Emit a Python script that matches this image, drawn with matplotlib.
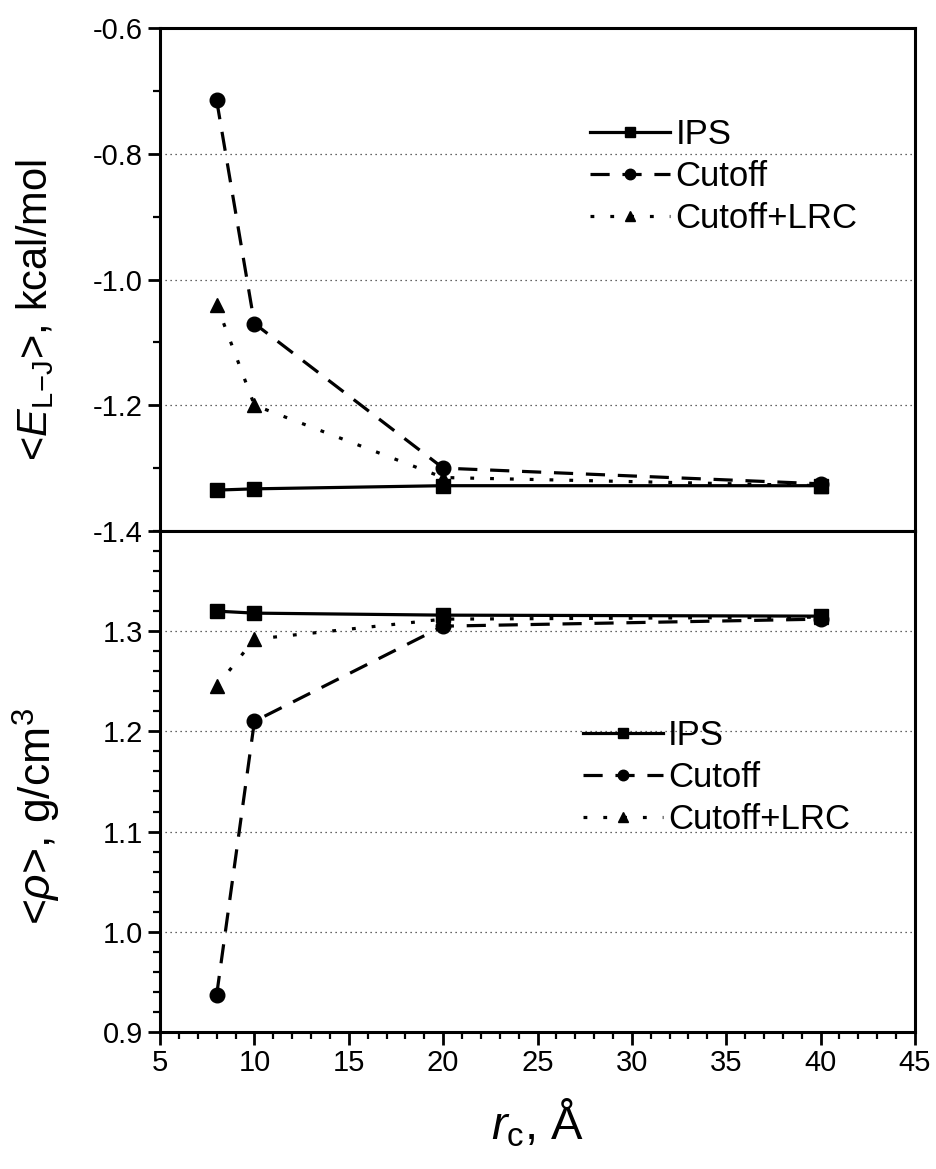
import matplotlib
matplotlib.use("Agg")
import matplotlib.pyplot as plt
from matplotlib.ticker import MultipleLocator

plt.rcParams['font.family'] = ['Liberation Sans', 'DejaVu Sans']
plt.rcParams['mathtext.fontset'] = 'custom'
plt.rcParams['mathtext.rm'] = 'Liberation Sans'
plt.rcParams['mathtext.it'] = 'Liberation Sans:italic'
plt.rcParams['xtick.labelsize'] = 21
plt.rcParams['ytick.labelsize'] = 21
plt.rcParams['xtick.major.size'] = 9
plt.rcParams['ytick.major.size'] = 9
plt.rcParams['xtick.minor.size'] = 5
plt.rcParams['ytick.minor.size'] = 5
plt.rcParams['xtick.major.width'] = 2
plt.rcParams['ytick.major.width'] = 2
plt.rcParams['xtick.minor.width'] = 1.6
plt.rcParams['ytick.minor.width'] = 1.6

rc = [8, 10, 20, 40]

# <E_L-J>, kcal/mol
e_ips = [-1.335, -1.333, -1.328, -1.328]
e_cut = [-0.715, -1.07, -1.30, -1.325]
e_lrc = [-1.04, -1.20, -1.315, -1.328]

# <rho>, g/cm^3
d_ips = [1.320, 1.318, 1.316, 1.315]
d_cut = [0.937, 1.21, 1.305, 1.312]
d_lrc = [1.245, 1.292, 1.312, 1.314]

labels = ['IPS', 'Cutoff', 'Cutoff+LRC']

fig = plt.figure(figsize=(9.37, 11.69), dpi=100)
ax1 = fig.add_axes([0.1708, 0.5458, 0.8057, 0.4302])
ax2 = fig.add_axes([0.1708, 0.1172, 0.8057, 0.4286], sharex=ax1)

lw = 2.3
styles = [
    dict(ls='-', marker='s', ms=10.5),
    dict(ls=(0, (6, 4)), marker='o', ms=10.5),
    dict(ls=(0, (1.2, 5)), marker='^', ms=10.5),
]

for ax, series in [(ax1, [e_ips, e_cut, e_lrc]), (ax2, [d_ips, d_cut, d_lrc])]:
    for y, st, lab in zip(series, styles, labels):
        ax.plot(rc, y, color='black', lw=lw, label=lab, **st)
    ax.grid(axis='y', ls=(0, (1, 3)), color='#333333', lw=0.9)
    for s in ax.spines.values():
        s.set_linewidth(2.2)
    ax.xaxis.set_major_locator(MultipleLocator(5))
    ax.xaxis.set_minor_locator(MultipleLocator(1))
    leg_loc = (0.57, 0.821) if ax is ax1 else (0.56, 0.625)
    ax.legend(loc='upper left', bbox_to_anchor=leg_loc, frameon=False, fontsize=25,
              borderpad=0, borderaxespad=0, handlelength=2.3, handletextpad=0.15,
              labelspacing=0.26, markerscale=0.72)

ax1.set_xlim(5, 45)
ax1.set_ylim(-1.4, -0.6)
ax1.set_yticks([-1.4, -1.2, -1.0, -0.8, -0.6])
ax1.set_yticklabels(['-1.4', '-1.2', '-1.0', '-0.8', '-0.6'])
ax1.yaxis.set_minor_locator(MultipleLocator(0.1))
ax1.tick_params(axis='x', labelbottom=False)

ax2.set_ylim(0.9, 1.4)
ax2.set_yticks([0.9, 1.0, 1.1, 1.2, 1.3])
ax2.set_yticklabels(['0.9', '1.0', '1.1', '1.2', '1.3'])
ax2.yaxis.set_minor_locator(MultipleLocator(0.02))

ax1.set_ylabel(r'<$E_{\mathrm{L\!-\!J}}$>, kcal/mol', fontsize=30)
ax2.set_ylabel(r'<$\rho$>, g/cm$^{3}$', fontsize=32)
ax1.yaxis.set_label_coords(-0.138, 0.44)
ax2.yaxis.set_label_coords(-0.128, 0.43)
ax2.set_xlabel(r'$r_{\mathrm{c}}$, Å', fontsize=34, labelpad=14)

fig.savefig('out.png', dpi=100)
